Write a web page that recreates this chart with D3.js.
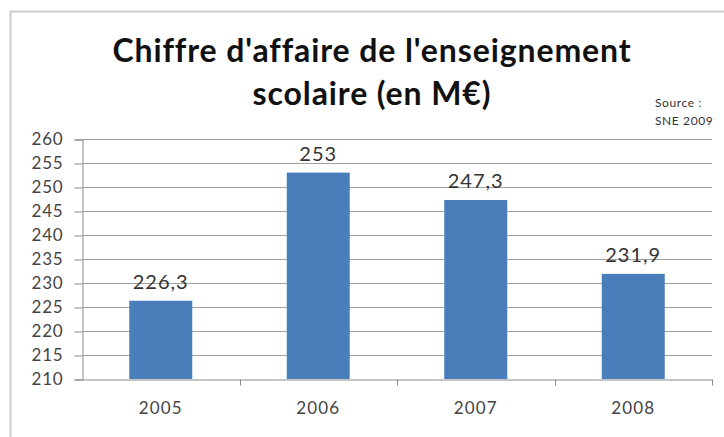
<!DOCTYPE html>
<html>
<head>
<meta charset="utf-8">
<script src="https://cdn.jsdelivr.net/npm/d3@7"></script>
<style>
  html, body { margin: 0; padding: 0; background: #fff; }
  svg { display: block; }
</style>
</head>
<body>
<svg id="chart" width="724" height="437"></svg>
<script>
// Chiffre d'affaire de l'enseignement scolaire, 2005–2008 (M€)
const years = ["2005", "2006", "2007", "2008"];
const revenue = [226.3, 253, 247.3, 231.9];
const revenueLabels = ["226,3", "253", "247,3", "231,9"];
const yTicks = [210, 215, 220, 225, 230, 235, 240, 245, 250, 255, 260];
const titleLines = ["Chiffre d'affaire de l'enseignement", "scolaire (en M€)"];
const sourceLines = ["Source :", "SNE 2009"];

const svg = d3.select("#chart");
const font = "Lato, 'Open Sans', sans-serif";

// chart frame
svg.append("rect")
  .attr("x", 10.5).attr("y", 11.5)
  .attr("width", 740).attr("height", 440)
  .attr("fill", "#fff")
  .attr("stroke", "#cccccc").attr("stroke-width", 2);

const plot = { left: 82, right: 712, top: 139, bottom: 379 };

const x = d3.scaleBand()
  .domain(years)
  .range([plot.left, plot.right])
  .paddingInner(0.6)
  .paddingOuter(0.3);

const y = d3.scaleLinear()
  .domain([210, 260])
  .range([plot.bottom, plot.top]);

// horizontal gridlines
svg.append("g")
  .selectAll("line")
  .data(yTicks.slice(1))
  .join("line")
  .attr("x1", plot.left).attr("x2", plot.right)
  .attr("y1", d => Math.round(y(d)) + 0.5)
  .attr("y2", d => Math.round(y(d)) + 0.5)
  .attr("stroke", "#a0a0a0").attr("stroke-width", 1.2);

// bars
svg.append("g")
  .selectAll("rect")
  .data(years)
  .join("rect")
  .attr("x", d => x(d))
  .attr("width", x.bandwidth())
  .attr("y", (d, i) => y(revenue[i]))
  .attr("height", (d, i) => y(210) - y(revenue[i]))
  .attr("fill", "#4a7ebb");

// y axis
const yAxis = d3.axisLeft(y)
  .tickValues(yTicks)
  .tickSize(8)
  .tickPadding(11)
  .tickFormat(d3.format("d"));
const gy = svg.append("g")
  .attr("transform", `translate(${plot.left + 0.5},0.5)`)
  .call(yAxis);
gy.select(".domain").attr("stroke", "#8a8a8a");
gy.selectAll(".tick line").attr("stroke", "#8a8a8a");
gy.selectAll(".tick text")
  .attr("font-family", font).attr("font-size", 17)
  .attr("letter-spacing", 0.8)
  .attr("fill", "#444");

// x axis with ticks between categories
const xAxis = d3.axisBottom(x).tickSize(0).tickPadding(22);
const gx = svg.append("g")
  .attr("transform", `translate(0,${plot.bottom + 0.5})`)
  .call(xAxis);
gx.select(".domain").attr("stroke", "#8a8a8a");
gx.selectAll(".tick text")
  .attr("font-family", font).attr("font-size", 17)
  .attr("letter-spacing", 1.2)
  .attr("fill", "#444");
const step = x.step();
gx.append("g")
  .selectAll("line")
  .data(d3.range(1, years.length + 1))
  .join("line")
  .attr("x1", i => Math.round(plot.left + i * step) + 0.5)
  .attr("x2", i => Math.round(plot.left + i * step) + 0.5)
  .attr("y1", 0).attr("y2", 6)
  .attr("stroke", "#8a8a8a");

// value labels
svg.append("g")
  .selectAll("text")
  .data(years)
  .join("text")
  .attr("x", d => x(d) + x.bandwidth() / 2)
  .attr("y", (d, i) => y(revenue[i]) - 12)
  .attr("text-anchor", "middle")
  .attr("font-family", font).attr("font-size", 20)
  .attr("letter-spacing", 1)
  .attr("fill", "#333")
  .text((d, i) => revenueLabels[i]);

// title
svg.append("g")
  .selectAll("text")
  .data(titleLines)
  .join("text")
  .attr("x", 372)
  .attr("y", (d, i) => 62 + i * 43)
  .attr("text-anchor", "middle")
  .attr("font-family", font).attr("font-size", 32)
  .attr("font-weight", "bold")
  .attr("letter-spacing", 0.9)
  .attr("fill", "#111")
  .text(d => d);

// source note
svg.append("g")
  .selectAll("text")
  .data(sourceLines)
  .join("text")
  .attr("x", 655)
  .attr("y", (d, i) => 107 + i * 18)
  .attr("font-family", font).attr("font-size", 12)
  .attr("letter-spacing", 0.6)
  .attr("fill", "#333")
  .text(d => d);
</script>
</body>
</html>
